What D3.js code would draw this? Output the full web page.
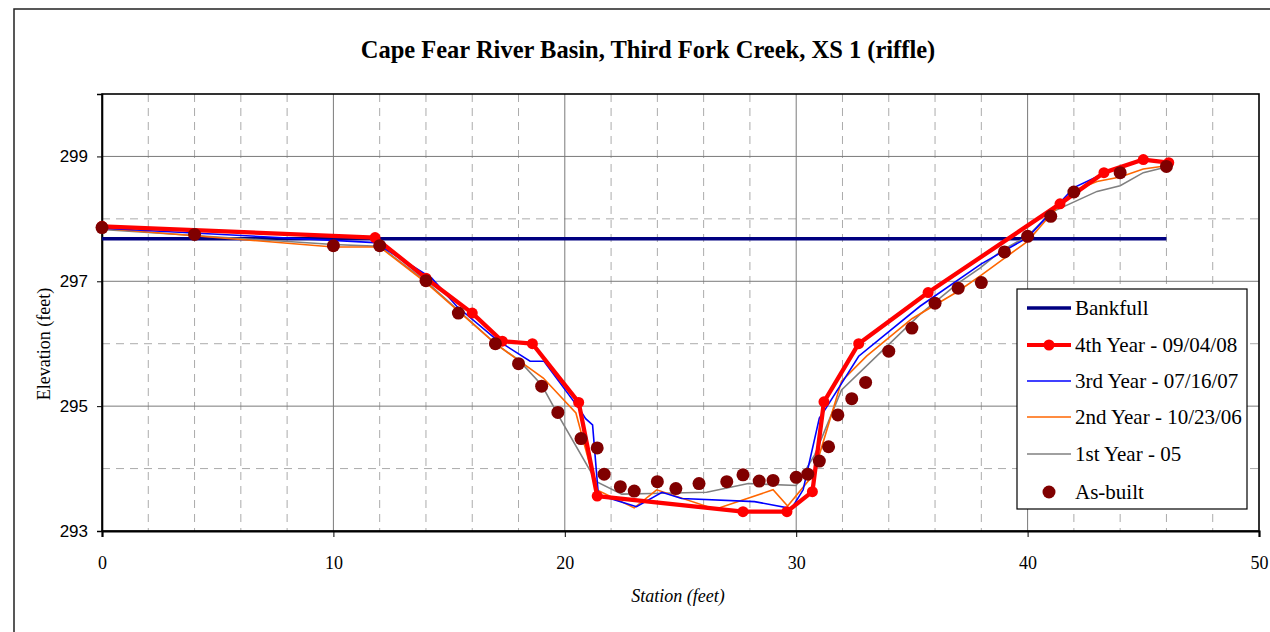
<!DOCTYPE html>
<html>
<head>
<meta charset="utf-8">
<script src="https://cdn.jsdelivr.net/npm/d3@7"></script>
<style>
  html, body { margin: 0; padding: 0; background: #fff; }
  svg { display: block; }
</style>
</head>
<body>
<svg id="chart" width="1270" height="632"></svg>
<script>
// Cross-section survey of XS 1 (riffle), Third Fork Creek
const chartTitle = "Cape Fear River Basin, Third Fork Creek, XS 1 (riffle)";
const xTicks = [0, 10, 20, 30, 40, 50];
const yTicks = [293, 295, 297, 299];

// Bankfull elevation line [station, elevation]
const bankfull = [[0, 297.68], [46, 297.68]];

// 4th Year - 09/04/08
const year4 = [
  [0, 297.88], [11.8, 297.70], [14, 297.05], [16, 296.49], [17.3, 296.04], [18.6, 296.0],
  [20.6, 295.06], [21.4, 293.56], [27.7, 293.31], [29.6, 293.31], [30.7, 293.63],
  [31.2, 295.07], [32.7, 296.0], [35.7, 296.82], [41.4, 298.24], [43.3, 298.74],
  [45.0, 298.95], [46.1, 298.9]
];

// 3rd Year - 07/16/07
const year3 = [
  [0, 297.85], [11.8, 297.62], [14.25, 297.05], [15.33, 296.6], [17.06, 296.06],
  [18.5, 295.72], [19.1, 295.72], [20.66, 294.94], [20.9, 294.8], [21.2, 294.7],
  [21.45, 293.58], [23.1, 293.39], [24.2, 293.62], [25.05, 293.52], [28.2, 293.47],
  [29.8, 293.36], [30.3, 293.66], [31.0, 294.81], [31.24, 294.94], [32.7, 295.8],
  [35.35, 296.6], [38.0, 297.28], [40, 297.7], [42, 298.5], [43.2, 298.71],
  [45, 298.95], [46.1, 298.9]
];

// 2nd Year - 10/23/06
const year2 = [
  [0, 297.85], [10, 297.55], [12, 297.55], [14, 296.98], [17, 296.0], [19.07, 295.45],
  [20.48, 294.89], [21.37, 293.66], [23.0, 293.37], [23.97, 293.66], [26.5, 293.35],
  [29.0, 293.66], [29.63, 293.4], [30.74, 293.9], [31.96, 295.4], [33.04, 295.8],
  [35, 296.4], [37, 296.84], [38, 297.1], [40, 297.64], [41, 298.07], [42, 298.45],
  [43, 298.6], [44, 298.67], [45, 298.8], [46, 298.85]
];

// 1st Year - 05
const year1 = [
  [0, 297.83], [10, 297.59], [12, 297.56], [14, 297.0], [17, 296.0], [18, 295.74],
  [19, 295.34], [19.8, 294.8], [21.37, 293.79], [22.46, 293.59], [23.75, 293.6],
  [26.13, 293.62], [27.93, 293.76], [30.0, 293.73], [30.8, 294.22], [31.96, 295.26],
  [35.35, 296.47], [37, 296.97], [37.94, 297.21], [38.9, 297.5], [40, 297.72],
  [41, 298.1], [43, 298.44], [44, 298.53], [45, 298.74], [46, 298.83]
];

// As-built survey points
const asBuilt = [
  [0, 297.86], [4, 297.75], [10, 297.57], [12, 297.57], [14, 297.01], [15.4, 296.49],
  [17, 296.0], [18, 295.68], [19, 295.32], [19.7, 294.9], [20.7, 294.48], [21.4, 294.33],
  [21.7, 293.91], [22.4, 293.71], [23, 293.64], [24, 293.79], [24.8, 293.68],
  [25.8, 293.76], [27, 293.79], [27.7, 293.9], [28.4, 293.8], [29, 293.81], [30, 293.86],
  [30.5, 293.91], [31, 294.12], [31.4, 294.35], [31.8, 294.86], [32.4, 295.12],
  [33, 295.38], [34, 295.88], [35, 296.25], [36, 296.65], [37, 296.89], [38, 296.98],
  [39, 297.47], [40, 297.72], [41, 298.04], [42, 298.43], [44, 298.74], [46, 298.84]
];

const legendLabels = ["Bankfull", "4th Year - 09/04/08", "3rd Year - 07/16/07",
  "2nd Year - 10/23/06", "1st Year - 05", "As-built"];

const serif = "'Liberation Serif', 'Times New Roman', serif";
const sans = "'Liberation Sans', Arial, sans-serif";

const svg = d3.select("#chart");
const L = 102, R = 1259, T = 94, B = 531;
const x = d3.scaleLinear().domain([0, 50]).range([L, R]);
const y = d3.scaleLinear().domain([293, 300]).range([B, T]);

// outer chart frame
svg.append("rect").attr("x", 14).attr("y", 9).attr("width", 1300).attr("height", 700)
  .attr("fill", "#fff").attr("stroke", "#222").attr("stroke-width", 1.5);

// title
svg.append("text").attr("x", 648).attr("y", 58).attr("text-anchor", "middle")
  .attr("font-family", serif).attr("font-weight", "bold").attr("font-size", 24.5)
  .text(chartTitle);

// gridlines
const grid = svg.append("g");
const minorX = d3.range(2, 50, 2).filter(v => v % 10 !== 0);
const minorY = [294, 296, 298];
grid.selectAll(".mx").data(minorX).join("line")
  .attr("x1", d => x(d)).attr("x2", d => x(d)).attr("y1", T).attr("y2", B)
  .attr("stroke", "#ababab").attr("stroke-dasharray", "8,6");
grid.selectAll(".my").data(minorY).join("line")
  .attr("x1", L).attr("x2", R).attr("y1", d => y(d)).attr("y2", d => y(d))
  .attr("stroke", "#ababab").attr("stroke-dasharray", "8,6");
grid.selectAll(".gx").data([10, 20, 30, 40]).join("line")
  .attr("x1", d => x(d)).attr("x2", d => x(d)).attr("y1", T).attr("y2", B)
  .attr("stroke", "#7a7a7a").attr("stroke-width", 1);
grid.selectAll(".gy").data([295, 297, 299]).join("line")
  .attr("x1", L).attr("x2", R).attr("y1", d => y(d)).attr("y2", d => y(d))
  .attr("stroke", "#7a7a7a").attr("stroke-width", 1);

// plot border
svg.append("rect").attr("x", L).attr("y", T).attr("width", R - L).attr("height", B - T)
  .attr("fill", "none").attr("stroke", "#000").attr("stroke-width", 1.6);

// axes
const xAxis = svg.append("g").attr("transform", `translate(0,${B})`)
  .call(d3.axisBottom(x).tickValues(xTicks).tickSize(6).tickPadding(19).tickFormat(d3.format("d")));
xAxis.select(".domain").attr("stroke", "#000").attr("stroke-width", 2.2);
xAxis.selectAll("text").attr("font-family", serif).attr("font-size", 18).attr("fill", "#000");

const yAxis = svg.append("g").attr("transform", `translate(${L},0)`)
  .call(d3.axisLeft(y).tickValues(yTicks).tickSize(5).tickPadding(9).tickFormat(d3.format("d")));
yAxis.select(".domain").attr("stroke", "#000").attr("stroke-width", 1.6);
yAxis.selectAll("text").attr("font-family", sans).attr("font-size", 17).attr("fill", "#000");

// axis titles
svg.append("text").attr("x", 678).attr("y", 602).attr("text-anchor", "middle")
  .attr("font-family", serif).attr("font-style", "italic").attr("font-size", 18)
  .text("Station (feet)");
svg.append("text").attr("transform", "translate(50,344) rotate(-90)").attr("text-anchor", "middle")
  .attr("font-family", serif).attr("font-size", 18).text("Elevation (feet)");

// series
const line = d3.line().x(d => x(d[0])).y(d => y(d[1]));
const plot = svg.append("g");
plot.append("path").datum(bankfull).attr("d", line).attr("fill", "none")
  .attr("stroke", "#000080").attr("stroke-width", 3.5);
plot.append("path").datum(year1).attr("d", line).attr("fill", "none")
  .attr("stroke", "#808080").attr("stroke-width", 1.6);
plot.append("path").datum(year2).attr("d", line).attr("fill", "none")
  .attr("stroke", "#ff6600").attr("stroke-width", 1.6);
plot.append("path").datum(year3).attr("d", line).attr("fill", "none")
  .attr("stroke", "#0000ff").attr("stroke-width", 1.6);
plot.append("path").datum(year4).attr("d", line).attr("fill", "none")
  .attr("stroke", "#ff0000").attr("stroke-width", 4.3).attr("stroke-linejoin", "round");
plot.selectAll(".m4").data(year4).join("circle")
  .attr("cx", d => x(d[0])).attr("cy", d => y(d[1])).attr("r", 5.5).attr("fill", "#ff0000");
plot.selectAll(".ab").data(asBuilt).join("circle")
  .attr("cx", d => x(d[0])).attr("cy", d => y(d[1])).attr("r", 6.5).attr("fill", "#800000");

// legend
const lg = svg.append("g");
lg.append("rect").attr("x", 1017).attr("y", 289).attr("width", 230).attr("height", 220)
  .attr("fill", "#fff").attr("stroke", "#000").attr("stroke-width", 1.2);
const rowY = [308, 345, 381, 417, 454, 492];
const styles = [
  { c: "#000080", w: 3.5 }, { c: "#ff0000", w: 4, m: 5.5 }, { c: "#0000ff", w: 1.6 },
  { c: "#ff6600", w: 1.6 }, { c: "#808080", w: 1.6 }, { dot: "#800000" }
];
legendLabels.forEach((lab, i) => {
  const s = styles[i], yy = rowY[i];
  if (s.dot) {
    lg.append("circle").attr("cx", 1049).attr("cy", yy).attr("r", 6.5).attr("fill", s.dot);
  } else {
    lg.append("line").attr("x1", 1027).attr("x2", 1071).attr("y1", yy).attr("y2", yy)
      .attr("stroke", s.c).attr("stroke-width", s.w);
    if (s.m) lg.append("circle").attr("cx", 1049).attr("cy", yy).attr("r", s.m).attr("fill", s.c);
  }
  lg.append("text").attr("x", 1075).attr("y", yy + 7).attr("font-family", serif)
    .attr("font-size", 21).attr("fill", "#000").text(lab);
});
</script>
</body>
</html>
